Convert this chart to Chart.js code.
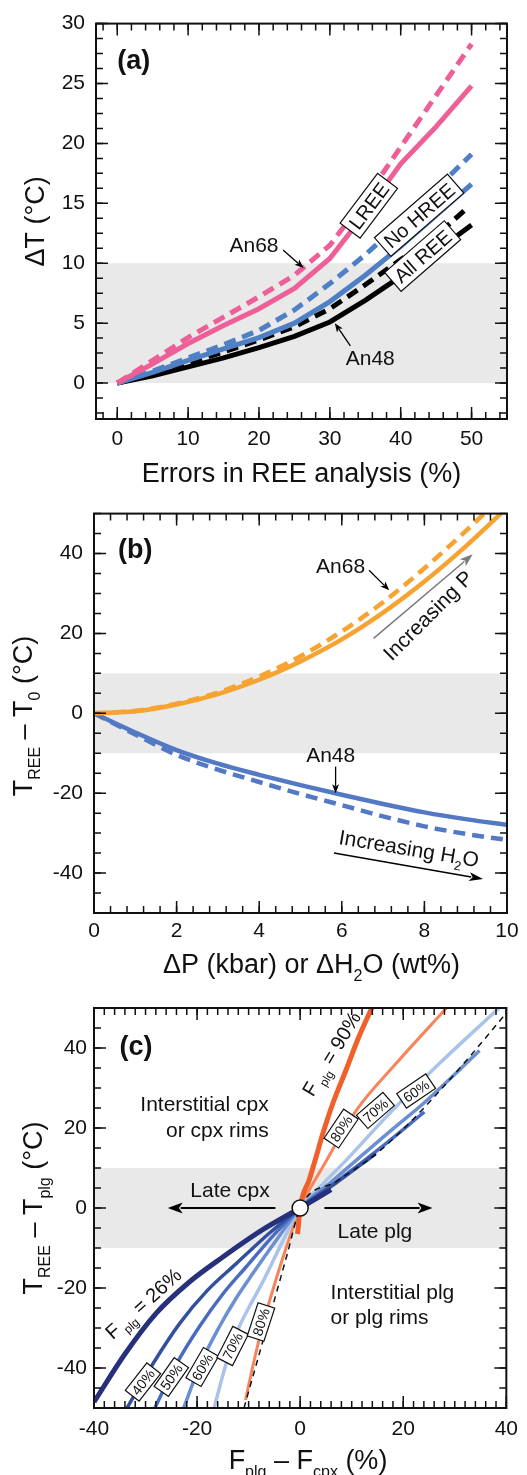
<!DOCTYPE html>
<html>
<head>
<meta charset="utf-8">
<script src="https://cdn.jsdelivr.net/npm/chart.js@4.4.0/dist/chart.umd.min.js"></script>
<style>
  html, body { margin: 0; padding: 0; background: #fff; }
  #wrap { position: relative; width: 527px; height: 1475px; overflow: hidden; }
  canvas { position: absolute; left: 0; }
</style>
</head>
<body>
<div id="wrap">
  <canvas id="panelA" width="527" height="490" style="top:0px"></canvas>
  <canvas id="panelB" width="527" height="500" style="top:490px"></canvas>
  <canvas id="panelC" width="527" height="500" style="top:975px"></canvas>
</div>
<script>
(function() {
    'use strict';

    const FONT = "'Liberation Sans', Arial, Helvetica, sans-serif";
    Chart.defaults.font.family = FONT;
    Chart.defaults.color = '#111';

    // ---- (a) temperature error vs. REE analytical error ----
    const errPct = [0, 5, 10, 15, 20, 25, 30, 35, 40, 45, 50];
    const errPctAllRee68 = [0, 5, 10, 15, 20, 25, 30, 35, 40, 45, 49];
    const lreeAn68 = [0, 1.9, 3.8, 5.5, 7.2, 9.0, 11.5, 15.4, 19.7, 24.0, 28.3];
    const lreeAn48 = [0, 1.6, 3.3, 4.8, 6.2, 7.9, 10.4, 14.2, 18.3, 21.4, 24.8];
    const noHreeAn68 = [0, 1.0, 2.1, 3.2, 4.4, 6.1, 8.3, 10.7, 13.4, 16.2, 19.1];
    const noHreeAn48 = [0, 0.9, 1.9, 2.85, 3.8, 5.0, 6.8, 9.0, 11.4, 14.0, 16.6];
    const allReeAn68 = [0, 0.75, 1.65, 2.6, 3.6, 4.7, 6.2, 8.2, 10.3, 12.3, 14.4];
    const allReeAn48 = [0, 0.6, 1.35, 2.1, 2.95, 3.9, 5.1, 6.9, 8.9, 11.0, 13.2];
    const aXTicks = [0, 10, 20, 30, 40, 50];
    const aYTicks = [0, 5, 10, 15, 20, 25, 30];

    // ---- (b) pressure / water effect ----
    const an68PX = [0, 1, 2, 3, 4, 5, 6, 7, 8, 9, 9.45];
    const an68P = [0, 0.6, 2.4, 5.2, 9.2, 14.3, 20.5, 27.8, 36.3, 45.6, 50];
    const an48PX = [0, 1, 2, 3, 4, 5, 6, 7, 8, 9, 9.85];
    const an48P = [0, 0.5, 2.2, 4.8, 8.4, 13.0, 18.5, 25.2, 33.0, 41.8, 50];
    const dH2O = [0, 1, 2, 3, 4, 5, 6, 7, 8, 9, 10];
    const an68H2O = [0, -5.3, -10.4, -14.1, -17.2, -20.2, -23.0, -25.8, -28.3, -30.2, -31.7];
    const an48H2O = [0, -4.8, -9.2, -12.6, -15.4, -18.0, -20.4, -22.7, -24.8, -26.5, -27.9];
    const bXTicks = [0, 2, 4, 6, 8, 10];
    const bYTicks = [-40, -20, 0, 20, 40];

    // ---- (c) crystallisation order, one curve per F_plg ----
    const fplg26X = [-40, -34, -28, -21.5, -15, -7.5, 0, 6];
    const fplg26Y = [-48.5, -36.5, -26.4, -18.5, -12.25, -5.6, 0, 4.6];
    const fplg40X = [-33.6, -28.5, -23.4, -18, -12.4, -6, 0, 7, 14.6];
    const fplg40Y = [-50, -38.8, -28.9, -20.6, -13.9, -6.3, 0, 6.3, 13.5];
    const fplg50X = [-28.2, -24, -19.6, -15, -10.5, -5, 0, 7.5, 15.4, 24.1];
    const fplg50Y = [-50, -39, -29.75, -21.5, -14.75, -6.6, 0, 7, 14.85, 24];
    const fplg60X = [-22.6, -19.5, -15.7, -12.3, -9.2, -4.5, 0, 6, 12.2, 18, 23.8, 29.5, 34.8];
    const fplg60Y = [-50, -39.5, -29.75, -22.3, -16.4, -7.8, 0, 6.5, 13.4, 19.8, 26.0, 32.8, 39.4];
    const fplg70X = [-16.7, -14.5, -12.4, -9.8, -7.3, -3.5, 0, 4.4, 8.9, 17.3, 27, 38.6];
    const fplg70Y = [-50, -39.5, -31.4, -24.5, -18.6, -8.6, 0, 6, 11.9, 23.6, 36.1, 50];
    const fplg80X = [-10.6, -9, -7.2, -5.3, -3.5, -1.6, 0, 4.4, 10.9, 18.6, 28.4];
    const fplg80Y = [-48, -38.5, -29, -20.5, -13, -5.7, 0, 10.3, 24.4, 36.1, 50];
    const fplg90X = [-0.5, 0, 1.8, 3.1, 4.4, 6.3, 8.9, 11.3, 13.9];
    const fplg90Y = [-6.5, 0, 7.2, 12.8, 18.6, 26.0, 34.5, 42.5, 50];
    const refLineX = [-10.9, -6.3, -2.5, 0, 7, 14.8, 21, 27, 33, 39.5];
    const refLineY = [-50, -29, -11.5, 0, 6.6, 13.6, 21, 29.2, 38, 48];
    const cXTicks = [-40, -20, 0, 20, 40];
    const cYTicks = [-40, -20, 0, 20, 40];

    const PINK = '#ee5f98';
    const BLUE_A = '#4f80c6';
    const ORANGE = '#f6a331';
    const BLUE_B = '#5479c4';
    const BAND = '#e8e9e8';
    const TICK_SIZE = 21;

    function xy(xs, ys) {
        return xs.map((x, i) => ({ x: x, y: ys[i] }));
    }

    function line(xs, ys, color, width, dash, smooth) {
        return {
            data: xy(xs, ys),
            showLine: true,
            borderColor: color,
            borderWidth: width,
            borderDash: dash || [],
            borderCapStyle: 'butt',
            pointRadius: 0,
            fill: false,
            clip: 0,
            cubicInterpolationMode: smooth ? 'monotone' : 'default',
            tension: 0
        };
    }

    // Axis setup with a fixed plot box inside the canvas
    function axes(c) {
        return {
            responsive: false,
            animation: false,
            devicePixelRatio: 1,
            events: [],
            layout: { padding: { left: 0, top: c.top, right: 527 - c.right, bottom: 0 } },
            plugins: { legend: { display: false }, tooltip: { enabled: false } },
            scales: {
                x: {
                    type: 'linear', position: 'bottom', bounds: 'data',
                    min: c.xMin, max: c.xMax,
                    grid: { display: false, drawTicks: false }, border: { display: false },
                    afterBuildTicks: s => { s.ticks = c.xTicks.map(v => ({ value: v })); },
                    afterFit: s => { s.height = c.height - c.bottom; },
                    ticks: { padding: c.xPad, font: { size: TICK_SIZE }, color: '#111', maxRotation: 0, autoSkip: false }
                },
                y: {
                    type: 'linear', position: 'left', bounds: 'data',
                    min: c.yMin, max: c.yMax,
                    grid: { display: false, drawTicks: false }, border: { display: false },
                    afterBuildTicks: s => { s.ticks = c.yTicks.map(v => ({ value: v })); },
                    afterFit: s => { s.width = c.left; },
                    ticks: { padding: c.yPad, font: { size: TICK_SIZE }, color: '#111', autoSkip: false }
                }
            }
        };
    }

    // Grey band behind the curves
    function band(lo, hi) {
        return {
            id: 'band',
            beforeDatasetsDraw(chart) {
                const { ctx, chartArea: a, scales: { y } } = chart;
                const top = y.getPixelForValue(hi), bot = y.getPixelForValue(lo);
                ctx.save();
                ctx.fillStyle = BAND;
                ctx.fillRect(a.left, top, a.width, bot - top);
                ctx.restore();
            }
        };
    }

    // Box frame with inward ticks on all four sides
    function frame(xMinor, yMinor) {
        return {
            id: 'frame',
            afterDatasetsDraw(chart) {
                const { ctx, chartArea: a, scales: { x, y } } = chart;
                ctx.save();
                ctx.strokeStyle = '#111';
                ctx.lineWidth = 1.5;
                const marks = (scale, values, len) => {
                    ctx.beginPath();
                    values.forEach(v => {
                        const p = scale.getPixelForValue(v);
                        if (scale.isHorizontal()) {
                            ctx.moveTo(p, a.bottom); ctx.lineTo(p, a.bottom - len);
                            ctx.moveTo(p, a.top); ctx.lineTo(p, a.top + len);
                        } else {
                            ctx.moveTo(a.left, p); ctx.lineTo(a.left + len, p);
                            ctx.moveTo(a.right, p); ctx.lineTo(a.right - len, p);
                        }
                    });
                    ctx.stroke();
                };
                const steps = (scale, step) => {
                    const out = [];
                    const first = Math.ceil(scale.min / step - 1e-6);
                    const last = Math.floor(scale.max / step + 1e-6);
                    for (let i = first; i <= last; i++) out.push(i * step);
                    return out;
                };
                marks(x, steps(x, xMinor), 7);
                marks(y, steps(y, yMinor), 7);
                marks(x, x.ticks.map(t => t.value), 12);
                marks(y, y.ticks.map(t => t.value), 12);
                ctx.lineWidth = 2;
                ctx.strokeRect(a.left, a.top, a.width, a.height);
                ctx.restore();
            }
        };
    }

    // Text made of [string, isSubscript] parts, centred on (cx, cy)
    function rich(ctx, parts, cx, cy, size, opt) {
        opt = opt || {};
        const sub = Math.round(size * 0.6);
        const weight = opt.bold ? 'bold ' : '';
        ctx.save();
        ctx.translate(cx, cy);
        ctx.rotate((opt.angle || 0) * Math.PI / 180);
        ctx.fillStyle = opt.color || '#111';
        ctx.textAlign = 'left';
        ctx.textBaseline = 'alphabetic';
        const fonts = parts.map(p => weight + (p[1] ? sub : size) + 'px ' + FONT);
        const widths = parts.map((p, i) => { ctx.font = fonts[i]; return ctx.measureText(p[0]).width; });
        const total = widths.reduce((s, w) => s + w, 0);
        let x = opt.align === 'left' ? 0 : opt.align === 'right' ? -total : -total / 2;
        parts.forEach((p, i) => {
            ctx.font = fonts[i];
            ctx.fillText(p[0], x, size * 0.36 + (p[1] ? size * 0.3 : 0));
            x += widths[i];
        });
        ctx.restore();
    }

    function tag(ctx, text, cx, cy, angle, size) {
        ctx.save();
        ctx.translate(cx, cy);
        ctx.rotate(angle * Math.PI / 180);
        ctx.font = size + 'px ' + FONT;
        const w = ctx.measureText(text).width + size * 0.5;
        const h = size * 1.25;
        ctx.fillStyle = '#fff';
        ctx.fillRect(-w / 2, -h / 2, w, h);
        ctx.lineWidth = 1.2;
        ctx.strokeStyle = '#111';
        ctx.strokeRect(-w / 2, -h / 2, w, h);
        ctx.fillStyle = '#111';
        ctx.textAlign = 'center';
        ctx.textBaseline = 'alphabetic';
        ctx.fillText(text, 0, size * 0.36);
        ctx.restore();
    }

    function arrow(ctx, x1, y1, x2, y2, color, lw, head, hw) {
        const a = Math.atan2(y2 - y1, x2 - x1);
        const bx = x2 - head * Math.cos(a), by = y2 - head * Math.sin(a);
        ctx.save();
        ctx.strokeStyle = color;
        ctx.fillStyle = color;
        ctx.lineWidth = lw;
        ctx.beginPath();
        ctx.moveTo(x1, y1);
        ctx.lineTo(bx + Math.cos(a) * 2, by + Math.sin(a) * 2);
        ctx.stroke();
        ctx.beginPath();
        ctx.moveTo(x2, y2);
        ctx.lineTo(bx + hw * Math.sin(a), by - hw * Math.cos(a));
        ctx.lineTo(bx + head * 0.25 * Math.cos(a), by + head * 0.25 * Math.sin(a));
        ctx.lineTo(bx - hw * Math.sin(a), by + hw * Math.cos(a));
        ctx.closePath();
        ctx.fill();
        ctx.restore();
    }

    function notes(draw) {
        return {
            id: 'notes',
            afterDraw(chart) {
                const { ctx, chartArea, scales: { x, y } } = chart;
                const X = v => x.getPixelForValue(v);
                const Y = v => y.getPixelForValue(v);
                draw(ctx, X, Y, chartArea);
            }
        };
    }

    const DASH_A = [12, 7];

    // Panel (a)
    new Chart(document.getElementById('panelA'), {
        type: 'scatter',
        data: {
            datasets: [
                line(errPct, lreeAn48, PINK, 5),
                line(errPct, lreeAn68, PINK, 5, DASH_A),
                line(errPct, noHreeAn48, BLUE_A, 5),
                line(errPct, noHreeAn68, BLUE_A, 5, DASH_A),
                line(errPct, allReeAn48, '#000', 5),
                line(errPctAllRee68, allReeAn68, '#000', 5, DASH_A)
            ]
        },
        options: axes({
            top: 20, bottom: 419, left: 96, right: 507, height: 490,
            xMin: -3, xMax: 55, yMin: -3, yMax: 30,
            xTicks: aXTicks, yTicks: aYTicks, xPad: 8, yPad: 11
        }),
        plugins: [
            band(0, 10),
            frame(2, 1.25),
            notes((ctx, X, Y, area) => {
                rich(ctx, [['(a)']], X(0), Y(27), 27, { bold: true, align: 'left' });
                rich(ctx, [['An68']], X(19.3), Y(11.6), 21);
                arrow(ctx, X(23.4), Y(11.1), X(26.3), Y(9.6), '#000', 1.3, 9, 3.5);
                rich(ctx, [['An48']], X(35.7), Y(2.1), 21);
                arrow(ctx, X(32.9), Y(3.1), X(30.7), Y(5.0), '#000', 1.3, 9, 3.5);
                tag(ctx, 'LREE', X(35.5), Y(14.8), -53, 20);
                tag(ctx, 'No HREE', X(42.6), Y(14.0), -41, 20);
                tag(ctx, 'All REE', X(43.1), Y(10.6), -41, 20);
                rich(ctx, [['Errors in REE analysis (%)']], 301.5, area.bottom + 53, 27);
                rich(ctx, [['ΔT (°C)']], 34, (area.top + area.bottom) / 2, 27, { angle: -90 });
            })
        ]
    });

    // Panel (b)
    new Chart(document.getElementById('panelB'), {
        type: 'scatter',
        data: {
            datasets: [
                line(an48PX, an48P, ORANGE, 4.5, null, true),
                line(an68PX, an68P, ORANGE, 4.5, [12, 7], true),
                line(dH2O, an48H2O, BLUE_B, 4.5, null, true),
                line(dH2O, an68H2O, BLUE_B, 4.5, [12, 7], true)
            ]
        },
        options: axes({
            top: 23, bottom: 423, left: 94, right: 507, height: 500,
            xMin: 0, xMax: 10, yMin: -50, yMax: 50,
            xTicks: bXTicks, yTicks: bYTicks, xPad: 6, yPad: 11
        }),
        plugins: [
            band(-10, 10),
            frame(0.4, 5),
            notes((ctx, X, Y, area) => {
                rich(ctx, [['(b)']], X(0.58), Y(41.3), 27, { bold: true, align: 'left' });
                rich(ctx, [['An68']], X(5.97), Y(37.1), 21);
                arrow(ctx, X(6.66), Y(35.8), X(7.15), Y(30.8), '#000', 1.3, 9, 3.5);
                rich(ctx, [['Increasing P']], X(8.08), Y(24.6), 21, { angle: -45 });
                arrow(ctx, X(6.77), Y(18.75), X(9.17), Y(39.8), '#7a7a7a', 1.5, 13, 4.5);
                rich(ctx, [['An48']], X(5.73), Y(-10.4), 21);
                arrow(ctx, X(5.85), Y(-13.35), X(5.85), Y(-20), '#000', 1.3, 9, 3.5);
                rich(ctx, [['Increasing H'], ['2', true], ['O']], X(7.63), Y(-33.75), 21, { angle: 9.5 });
                arrow(ctx, X(5.81), Y(-35), X(9.42), Y(-41.5), '#000', 1.5, 14, 4.5);
                rich(ctx, [['ΔP (kbar) or ΔH'], ['2', true], ['O (wt%)']], 311.5, area.bottom + 50, 27);
                rich(ctx, [['T'], ['REE', true], [' – T'], ['0', true], [' (°C)']], 22, 226, 27, { angle: -90 });
            })
        ]
    });

    // Panel (c)
    new Chart(document.getElementById('panelC'), {
        type: 'scatter',
        data: {
            datasets: [
                {
                    data: [{ x: 0, y: 0 }], pointRadius: 8, pointBackgroundColor: '#fff',
                    pointBorderColor: '#111', pointBorderWidth: 1.5, showLine: false, clip: false
                },
                line(refLineX, refLineY, '#111', 1.5, [6, 5], true),
                line(fplg90X, fplg90Y, '#f0602a', 5, null, true),
                line(fplg26X, fplg26Y, '#27307a', 5, null, true),
                line(fplg40X, fplg40Y, '#33509f', 3.5, null, true),
                line(fplg50X, fplg50Y, '#4a6cc0', 3.5, null, true),
                line(fplg60X, fplg60Y, '#6a8fd2', 3.5, null, true),
                line(fplg70X, fplg70Y, '#a9c3ea', 3.5, null, true),
                line(fplg80X, fplg80Y, '#f7845a', 3, null, true)
            ]
        },
        options: axes({
            top: 33, bottom: 433, left: 94, right: 507, height: 500,
            xMin: -40, xMax: 40, yMin: -50, yMax: 50,
            xTicks: cXTicks, yTicks: cYTicks, xPad: 9, yPad: 7
        }),
        plugins: [
            band(-10, 10),
            frame(2, 5),
            notes((ctx, X, Y, area) => {
                rich(ctx, [['(c)']], X(-35.05), Y(40.7), 27, { bold: true, align: 'left' });
                rich(ctx, [['Interstitial cpx']], X(-6.1), Y(26.1), 21, { align: 'right' });
                rich(ctx, [['or cpx rims']], X(-6.1), Y(19.6), 21, { align: 'right' });
                rich(ctx, [['Late cpx']], X(-13.6), Y(4.6), 21);
                arrow(ctx, X(-4.8), Y(0), X(-25.7), Y(0), '#000', 2, 15, 5.5);
                rich(ctx, [['Late plg']], X(14.5), Y(-5.6), 21);
                arrow(ctx, X(4.7), Y(0), X(25.7), Y(0), '#000', 2, 15, 5.5);
                rich(ctx, [['Interstitial plg']], X(5.9), Y(-20.8), 21, { align: 'left' });
                rich(ctx, [['or plg rims']], X(5.9), Y(-27.1), 21, { align: 'left' });
                rich(ctx, [['F'], [' plg', true], [' = 90%']], X(6.0), Y(38.6), 20, { angle: -59 });
                rich(ctx, [['F'], [' plg', true], [' = 26%']], X(-30.5), Y(-23.8), 20, { angle: -42 });
                tag(ctx, '80%', X(7.95), Y(19.85), -56, 14);
                tag(ctx, '70%', X(14.6), Y(24.4), -41, 14);
                tag(ctx, '60%', X(22.5), Y(29.25), -34, 14);
                tag(ctx, '40%', X(-30.5), Y(-43.5), -52, 14);
                tag(ctx, '50%', X(-25), Y(-42.25), -55, 14);
                tag(ctx, '60%', X(-19), Y(-39.75), -60, 14);
                tag(ctx, '70%', X(-13.1), Y(-34.5), -63, 14);
                tag(ctx, '80%', X(-7.6), Y(-28.5), -72, 14);
                rich(ctx, [['F'], ['plg', true], [' – F'], ['cpx', true], [' (%)']], 308, area.bottom + 51, 27);
                rich(ctx, [['T'], ['REE', true], [' – T'], ['plg', true], [' (°C)']], 32.5, 233, 27, { angle: -90 });
            })
        ]
    });

})();
</script>
</body>
</html>
